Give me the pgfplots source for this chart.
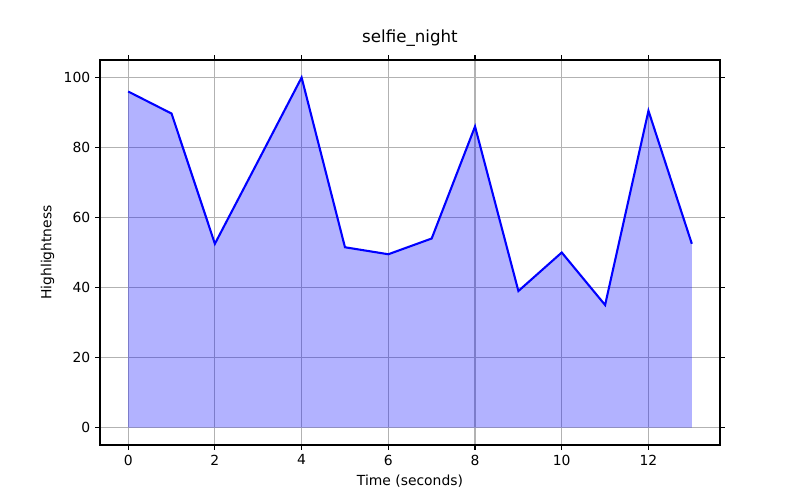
\documentclass[border=0pt]{standalone}
\usepackage{pgfplots}
\pgfplotsset{compat=1.18}
\usepackage{fontspec}
\setmainfont{DejaVu Sans}
\begin{document}
\fontsize{10pt}{12pt}\selectfont
\begin{tikzpicture}
\path[use as bounding box] (0,0) rectangle (576pt,360pt);
\begin{axis}[at={(72pt,39.6pt)}, anchor=south west, scale only axis,
 width=446.4pt, height=277.2pt,
 xmin=-0.65, xmax=13.65, ymin=-5, ymax=105,
 xtick={0,2,...,12}, ytick={0,20,...,100},
 grid=major, grid style={color=black!30, line width=0.8pt},
 tick align=outside, tick style={black, line width=0.8pt},
 major tick length=3.5pt,
 /pgf/number format/assume math mode=true,
 ticklabel style={font=\fontsize{10pt}{12pt}\selectfont},
 xlabel={Time (seconds)}, ylabel={Highlightness},
 title={\fontsize{12pt}{14pt}\selectfont selfie\_night},
 axis line style={line width=0.8pt}]
\addplot[draw=none, fill=blue, fill opacity=0.3] coordinates {(0,96) (1,89.7) (2,52.5) (3,76.2) (4,100) (5,51.5) (6,49.5) (7,54) (8,86) (9,39) (10,50) (11,35) (12,90.5) (13,52.5) (13,0) (0,0)} -- cycle;
\addplot[blue, line width=1.5pt, mark=none] coordinates {(0,96) (1,89.7) (2,52.5) (3,76.2) (4,100) (5,51.5) (6,49.5) (7,54) (8,86) (9,39) (10,50) (11,35) (12,90.5) (13,52.5)};
\end{axis}
\end{tikzpicture}
\end{document}
